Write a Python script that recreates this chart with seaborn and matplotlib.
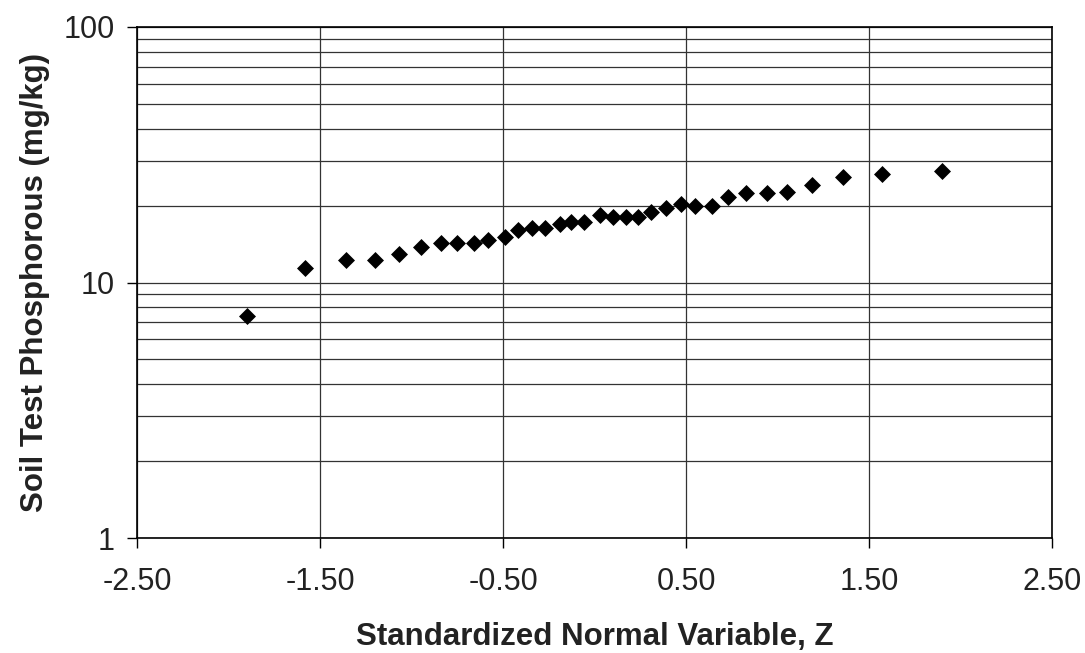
import matplotlib
matplotlib.use("Agg")
import matplotlib.pyplot as plt
import seaborn as sns
import pandas as pd
from matplotlib.ticker import FixedLocator, LogLocator, NullFormatter, FuncFormatter

z_values = [-1.90, -1.58, -1.36, -1.20, -1.07, -0.95, -0.84, -0.75, -0.66, -0.58,
            -0.49, -0.42, -0.34, -0.27, -0.19, -0.13, -0.06, 0.03, 0.10, 0.17,
            0.24, 0.31, 0.39, 0.47, 0.55, 0.64, 0.73, 0.83, 0.94, 1.05,
            1.19, 1.36, 1.57, 1.90]
phosphorus = [7.4, 11.4, 12.3, 12.3, 12.9, 13.8, 14.3, 14.3, 14.3, 14.7,
              15.1, 16.0, 16.4, 16.4, 16.9, 17.3, 17.2, 18.3, 18.1, 18.1,
              18.1, 18.8, 19.6, 20.2, 20.0, 20.0, 21.7, 22.5, 22.5, 22.7,
              24.0, 25.8, 26.7, 27.2]
x_ticks = [-2.5, -1.5, -0.5, 0.5, 1.5, 2.5]
y_ticks = [1, 10, 100]

df = pd.DataFrame({"z": z_values, "p": phosphorus})

sns.set_theme(style="white")
plt.rcParams['font.family'] = ['Liberation Sans', 'DejaVu Sans']

fig = plt.figure(figsize=(10.85, 6.53), dpi=100)
ax = fig.add_axes([0.1263, 0.176, 0.8433, 0.7827])

sns.scatterplot(data=df, x="z", y="p", ax=ax, marker="D", s=75, color="black",
                edgecolor="black", linewidth=0, zorder=3, legend=False)

ax.set_yscale("log")
ax.set_xlim(-2.5, 2.5)
ax.set_ylim(1, 100)
ax.xaxis.set_major_locator(FixedLocator(x_ticks))
ax.xaxis.set_major_formatter(FuncFormatter(lambda v, p: f"{v:.2f}"))
ax.yaxis.set_major_locator(FixedLocator(y_ticks))
ax.yaxis.set_major_formatter(FuncFormatter(lambda v, p: f"{v:g}"))
ax.yaxis.set_minor_locator(LogLocator(base=10, subs=range(2, 10)))
ax.yaxis.set_minor_formatter(NullFormatter())

ax.grid(True, which="major", axis="x", color="#333333", linewidth=0.9)
ax.grid(True, which="both", axis="y", color="#333333", linewidth=0.9)
ax.set_axisbelow(True)

for s in ax.spines.values():
    s.set_visible(True)
    s.set_color("black")
    s.set_linewidth(1.2)

ax.tick_params(axis="both", which="major", direction="out", length=7, width=1,
               color="black", labelsize=22, labelcolor="#222222",
               bottom=True, left=True)
ax.tick_params(axis="x", which="major", pad=14)
ax.tick_params(axis="y", which="major", pad=9)
ax.tick_params(axis="y", which="minor", length=0)

ax.set_xlabel("Standardized Normal Variable, Z", fontsize=22.5, fontweight="bold",
              color="#222222", labelpad=18)
ax.set_ylabel("Soil Test Phosphorous (mg/kg)", fontsize=22.5, fontweight="bold",
              color="#222222", labelpad=10)

fig.savefig("out.png", dpi=100)
